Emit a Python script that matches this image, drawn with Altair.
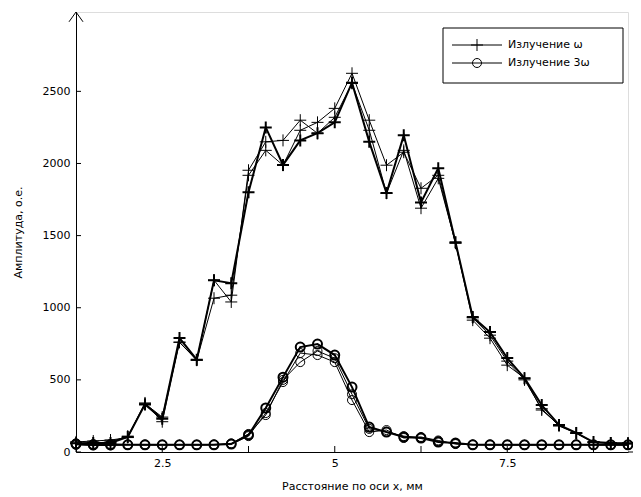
import altair as alt
import pandas as pd

# ---------------- data ----------------
x_mm = [1.25, 1.5, 1.75, 2.0, 2.25, 2.5, 2.75, 3.0, 3.25, 3.5, 3.75, 4.0, 4.25,
        4.5, 4.75, 5.0, 5.25, 5.5, 5.75, 6.0, 6.25, 6.5, 6.75, 7.0, 7.25, 7.5,
        7.75, 8.0, 8.25, 8.5, 8.75, 9.0, 9.25]

# Излучение ω (several measurements)
omega_1 = [60, 62, 62, 104, 330, 230, 790, 640, 1190, 1170, 1800, 2250, 1990,
           2160, 2210, 2285, 2560, 2150, 1795, 2195, 1730, 1967, 1454, 935, 831,
           651, 512, 325, 187, 132, 69, 62, 60]
omega_2 = [70, 76, 83, 100, 340, 210, 760, 637, 1066, 1087, 1918, 2091, 1988,
           2230, 2285, 2382, 2625, 2300, 1988, 2078, 1828, 1918, 1447, 914, 789,
           602, 512, 291, 187, 132, 69, 62, 60]
omega_3 = [60, 62, 70, 110, 335, 242, 762, 637, 1191, 1040, 1953, 2150, 2160,
           2300, 2209, 2320, 2555, 2230, 1794, 2091, 1690, 1897, 1450, 930, 810,
           630, 500, 300, 180, 130, 65, 60, 55]

# Излучение 3ω (several measurements)
omega3_1 = [55, 50, 50, 50, 50, 50, 50, 50, 50, 55, 118, 305, 519, 727, 748, 672,
            450, 173, 138, 104, 97, 69, 62, 50, 50, 50, 50, 50, 50, 50, 50, 50, 50]
omega3_2 = [50, 45, 45, 50, 48, 48, 50, 48, 50, 55, 110, 270, 485, 686, 672, 623,
            360, 138, 152, 97, 104, 80, 55, 50, 48, 48, 48, 48, 48, 50, 48, 48, 48]
omega3_3 = [60, 55, 55, 52, 52, 50, 50, 50, 52, 60, 125, 256, 500, 623, 700, 650,
            400, 160, 140, 110, 100, 75, 58, 52, 52, 50, 50, 50, 50, 52, 50, 50, 50]

x_tick_values = [1.25, 2.5, 3.75, 5.0, 6.25, 7.5, 8.75]
x_label_values = [2.5, 5.0, 7.5]
y_tick_values = [0, 500, 1000, 1500, 2000, 2500]

legend_labels = ["Излучение ω", "Излучение 3ω"]
x_title = "Расстояние по оси x, мм"
y_title = "Амплитуда, о.е."

# ---------------- layout ----------------
W, H = 552, 440
FONT = "DejaVu Sans"
CROSS = "M -1 0 L 1 0 M 0 -1 L 0 1"
ARROW = "M -1 1.4 L 0 0 L 1 1.4"

xs = alt.Scale(domain=[1.25, 9.25], nice=False, zero=False)
ys = alt.Scale(domain=[0, 3050], nice=False, zero=True)

common = dict(tickSize=0, grid=False, domainColor="black", labelColor="black",
              titleColor="black", labelFont=FONT, titleFont=FONT,
              labelFontSize=11, titleFontSize=11, titleFontWeight="normal")
x_axis = alt.Axis(values=x_label_values, format=".2~f", labelPadding=5,
                  title=x_title, titlePadding=12, **common)
y_axis = alt.Axis(values=y_tick_values, format="d", labelPadding=6,
                  title=y_title, titlePadding=19, **common)


def X(field):
    return alt.X(field, scale=xs, axis=x_axis)


def Y(field):
    return alt.Y(field, scale=ys, axis=y_axis)


one = pd.DataFrame({"k": [0]})

series = [
    (omega3_2, "circle", 1.0, 81),
    (omega3_3, "circle", 1.0, 81),
    (omega3_1, "circle", 2.0, 81),
    (omega_2, CROSS, 1.0, 144),
    (omega_3, CROSS, 1.0, 144),
    (omega_1, CROSS, 2.0, 144),
]

layers = []
for vals, shape, sw, size in series:
    df = pd.DataFrame({"x": x_mm, "y": vals})
    base = alt.Chart(df).encode(x=X("x:Q"), y=Y("y:Q"))
    layers.append(base.mark_line(color="black", strokeWidth=sw))
    layers.append(base.mark_point(shape=shape, size=size, filled=False,
                                  color="black", strokeWidth=sw, opacity=1))

# inward tick marks
xt = pd.DataFrame({"x": x_tick_values})
layers.append(alt.Chart(xt).mark_rule(color="black", strokeWidth=1).encode(
    x=X("x:Q"), y=alt.value(H), y2=alt.value(H - 6)))
yt = pd.DataFrame({"y": y_tick_values})
layers.append(alt.Chart(yt).mark_rule(color="black", strokeWidth=1).encode(
    y=Y("y:Q"), x=alt.value(0), x2=alt.value(5)))

# axis arrow
layers.append(alt.Chart(one).mark_point(shape=ARROW, size=196, filled=False,
                                        color="black", strokeWidth=1, opacity=1)
              .encode(x=alt.value(0), y=alt.value(0)))
# x axis continuation at the right edge
layers.append(alt.Chart(one).mark_rule(color="black", strokeWidth=1).encode(
    x=alt.value(W), x2=alt.value(W + 14), y=alt.value(H)))

# legend box
LX0, LX1, LY0, LY1 = 367, 547, 16, 71
layers.append(alt.Chart(one).mark_rect(fill="white", stroke="black", strokeWidth=1)
              .encode(x=alt.value(LX0), x2=alt.value(LX1),
                      y=alt.value(LY0), y2=alt.value(LY1)))
for row, (label, shape, size) in enumerate([(legend_labels[0], CROSS, 144),
                                            (legend_labels[1], "circle", 81)]):
    ry = 33 + row * 18
    layers.append(alt.Chart(one).mark_rule(color="black", strokeWidth=1).encode(
        x=alt.value(376), x2=alt.value(426), y=alt.value(ry)))
    layers.append(alt.Chart(one).mark_point(shape=shape, size=size, filled=False,
                                            color="black", strokeWidth=1, opacity=1)
                  .encode(x=alt.value(401), y=alt.value(ry)))
    layers.append(alt.Chart(one).mark_text(align="left", baseline="middle",
                                           font=FONT, fontSize=11, color="black")
                  .encode(x=alt.value(432), y=alt.value(ry), text=alt.value(label)))

chart = (
    alt.layer(*layers)
    .properties(width=W, height=H,
                autosize=alt.AutoSizeParams(type="none"),
                padding={"left": 68, "top": 4, "right": 5, "bottom": 40})
    .configure_view(stroke=None)
    .configure(background="white")
)

chart.save("out.html", embed_options={"renderer": "svg", "actions": False})
